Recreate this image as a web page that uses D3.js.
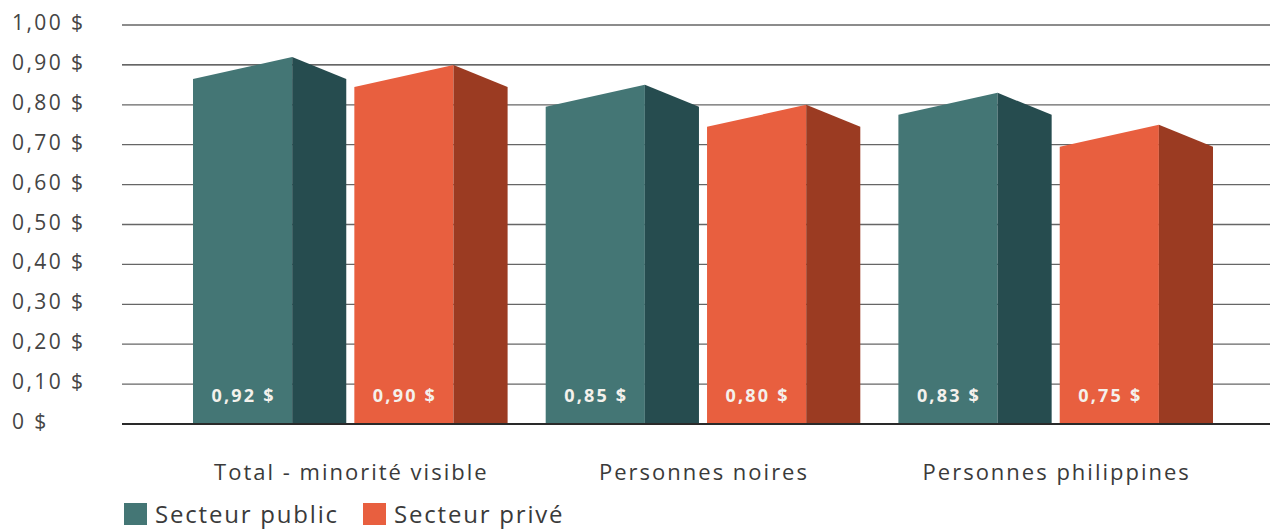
<!DOCTYPE html>
<html>
<head>
<meta charset="utf-8">
<script src="https://cdn.jsdelivr.net/npm/d3@7"></script>
<style>
  body { margin: 0; background: #fff; }
  svg { display: block; font-family: "Open Sans", sans-serif; }
</style>
</head>
<body>
<svg id="chart" width="1270" height="530"></svg>
<script>
/* Salary ratio chart — 3D-ish bars, two sectors per group. */

const categories = ["Total - minorité visible", "Personnes noires", "Personnes philippines"];
const series = ["Secteur public", "Secteur privé"];
const publicValues = [0.92, 0.85, 0.83];
const privateValues = [0.90, 0.80, 0.75];
const valueLabels = [["0,92 $", "0,90 $"], ["0,85 $", "0,80 $"], ["0,83 $", "0,75 $"]];
const yTicks = [0, 0.1, 0.2, 0.3, 0.4, 0.5, 0.6, 0.7, 0.8, 0.9, 1.0];
const yTickLabels = ["0 $", "0,10 $", "0,20 $", "0,30 $", "0,40 $", "0,50 $", "0,60 $", "0,70 $", "0,80 $", "0,90 $", "1,00 $"];

const COLORS = {
  "Secteur public": { front: "#447675", side: "#264c4f" },
  "Secteur privé": { front: "#e85f3f", side: "#9b3b22" }
};

const svg = d3.select("#chart");

const y = d3.scaleLinear().domain([0, 1]).range([424, 25]);
const x0 = d3.scaleBand().domain(categories).range([193, 1213]).paddingInner(0.108).paddingOuter(0);
const x1 = d3.scaleBand().domain(series).range([0, x0.bandwidth()]).paddingInner(0.05);

/* ---------- Grid ---------- */
svg.append("g")
  .selectAll("line")
  .data(yTicks.filter((t) => t > 0))
  .join("line")
  .attr("x1", 122).attr("x2", 1270)
  .attr("y1", (d) => y(d)).attr("y2", (d) => y(d))
  .attr("stroke", (d) => d === 0.9 ? "#333" : "#666")
  .attr("stroke-width", 1.3);

svg.append("g")
  .selectAll("text")
  .data(yTicks)
  .join("text")
  .attr("x", 12)
  .attr("y", (d) => y(d) - 2.5)
  .attr("dy", "0.36em")
  .attr("font-size", 21)
  .attr("letter-spacing", 2.4)
  .attr("fill", "#444")
  .text((d, i) => yTickLabels[i]);

/* ---------- Bars ---------- */
const rows = categories.map((c, i) => ({
  cat: c,
  vals: [
    { s: series[0], v: publicValues[i], label: valueLabels[i][0] },
    { s: series[1], v: privateValues[i], label: valueLabels[i][1] }
  ]
}));

const FRONT = 0.647; // share of bar width used by the front face
const DROP = 22;     // how far the top corners fall below the peak

const groups = svg.append("g")
  .selectAll("g")
  .data(rows)
  .join("g")
  .attr("transform", (d) => `translate(${x0(d.cat)},0)`);

const bars = groups.selectAll("g.bar")
  .data((d) => d.vals)
  .join("g")
  .attr("class", "bar")
  .attr("transform", (d) => `translate(${x1(d.s)},0)`);

const bw = x1.bandwidth();
const base = y(0);

bars.append("path")
  .attr("fill", (d) => COLORS[d.s].front)
  .attr("d", (d) => {
    const p = y(d.v), fx = bw * FRONT;
    return `M0,${base}L0,${p + DROP}L${fx},${p}L${fx},${base}Z`;
  });

bars.append("path")
  .attr("fill", (d) => COLORS[d.s].side)
  .attr("d", (d) => {
    const p = y(d.v), fx = bw * FRONT;
    return `M${fx},${base}L${fx},${p}L${bw},${p + DROP}L${bw},${base}Z`;
  });

bars.append("text")
  .attr("x", bw * FRONT / 2 + 1)
  .attr("y", 395.5)
  .attr("dy", "0.36em")
  .attr("text-anchor", "middle")
  .attr("font-size", 18)
  .attr("font-weight", "bold")
  .attr("letter-spacing", 2.2)
  .attr("fill", "#f4f1ec")
  .text((d) => d.label);

/* ---------- Baseline ---------- */
svg.append("line")
  .attr("x1", 122).attr("x2", 1270)
  .attr("y1", base).attr("y2", base)
  .attr("stroke", "#2a2a2a")
  .attr("stroke-width", 2.2);

/* ---------- Category labels ---------- */
svg.append("g")
  .selectAll("text")
  .data(categories)
  .join("text")
  .attr("x", (d) => x0(d) + x0.bandwidth() / 2 + 1)
  .attr("y", 472)
  .attr("dy", "0.36em")
  .attr("text-anchor", "middle")
  .attr("font-size", 22)
  .attr("letter-spacing", 2)
  .attr("fill", "#3a3a3a")
  .text((d) => d);

/* ---------- Legend ---------- */
const legendX = [124, 363];
const legend = svg.append("g")
  .selectAll("g")
  .data(series)
  .join("g")
  .attr("transform", (d, i) => `translate(${legendX[i]},503)`);

legend.append("rect")
  .attr("width", 23).attr("height", 22)
  .attr("fill", (d) => COLORS[d].front);

legend.append("text")
  .attr("x", 31)
  .attr("y", 20)
  .attr("font-size", 24)
  .attr("letter-spacing", 1.8)
  .attr("fill", "#3a3a3a")
  .text((d) => d);
</script>
</body>
</html>
